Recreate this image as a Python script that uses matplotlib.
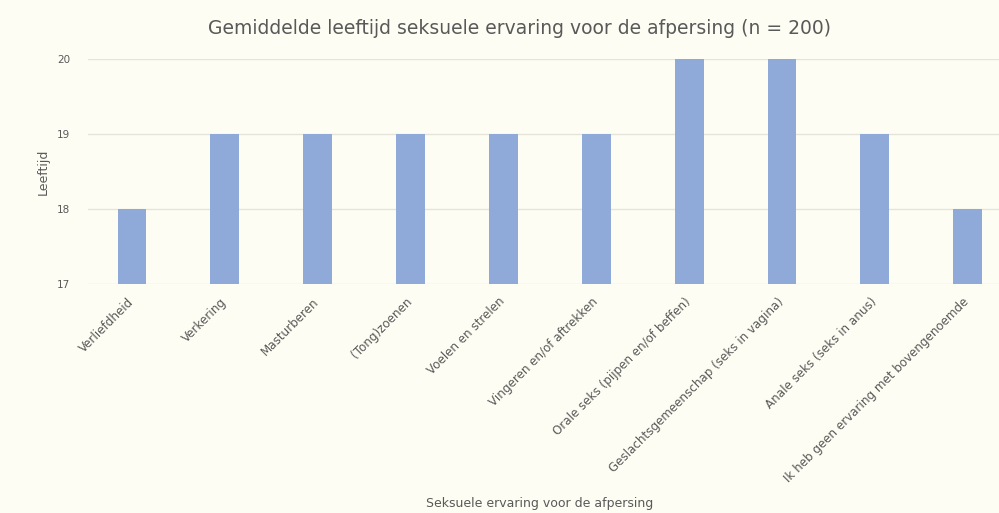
import matplotlib
matplotlib.use("Agg")
import matplotlib.pyplot as plt
import matplotlib.transforms as mtrans
import numpy as np

# data
categorieen = ["Verliefdheid", "Verkering", "Masturberen", "(Tong)zoenen",
               "Voelen en strelen", "Vingeren en/of aftrekken",
               "Orale seks (pijpen en/of beffen)",
               "Geslachtsgemeenschap (seks in vagina)",
               "Anale seks (seks in anus)",
               "Ik heb geen ervaring met bovengenoemde"]
leeftijd = [18, 19, 19, 19, 19, 19, 20, 20, 19, 18]
yticks = [17, 18, 19, 20]

bg = "#fdfdf3"
grijs = "#595959"

fig = plt.figure(figsize=(9.99, 5.13), dpi=100, facecolor=bg)
ax = fig.add_axes([0.0881, 0.4464, 0.927, 0.4386], facecolor=bg)

x = np.arange(len(categorieen))
ax.bar(x, leeftijd, width=0.31, color="#8fa9d8", zorder=3)

ax.set_ylim(17, 20)
ax.set_xlim(-0.474, 9.5)
ax.set_yticks(yticks)
ax.set_yticklabels([str(t) for t in yticks], fontsize=7.5, color=grijs)
ax.set_xticks(x)
ax.set_xticklabels(categorieen, rotation=45, ha="right", rotation_mode="anchor",
                   fontsize=8.6, color=grijs)
ax.tick_params(axis="both", length=0)
ax.tick_params(axis="x", pad=8)
ax.tick_params(axis="y", pad=13)
# labels iets naar links schuiven
verschuif = mtrans.ScaledTranslation(-5 / 100, 0, fig.dpi_scale_trans)
for lbl in ax.get_xticklabels():
    lbl.set_transform(lbl.get_transform() + verschuif)
ax.grid(axis="y", color="#e4e4da", linewidth=1, zorder=0)
for s in ax.spines.values():
    s.set_visible(False)

ax.set_ylabel("Leeftijd", fontsize=9, color=grijs, labelpad=5)
fig.text(0.54, 0.019, "Seksuele ervaring voor de afpersing", fontsize=9,
         color=grijs, ha="center", va="center")
fig.text(0.52, 0.945, "Gemiddelde leeftijd seksuele ervaring voor de afpersing (n = 200)",
         fontsize=13.5, color=grijs, ha="center", va="center")

fig.savefig("out.png", dpi=100, facecolor=bg)
